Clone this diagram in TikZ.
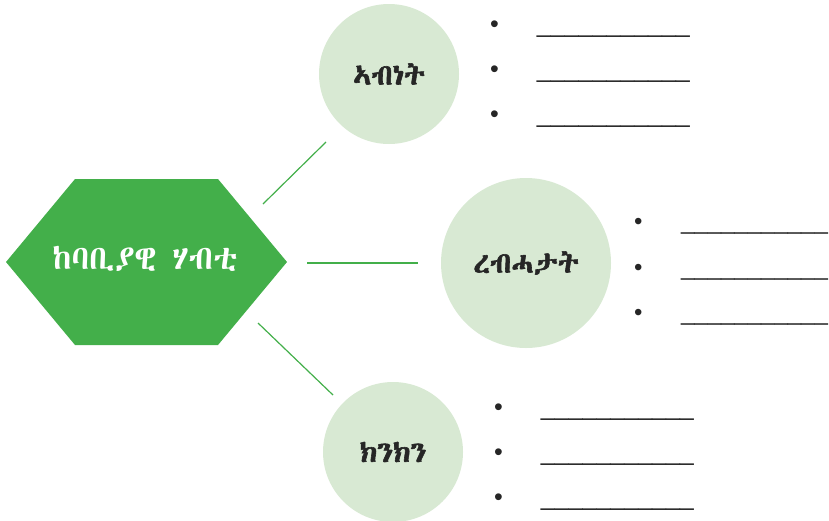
\documentclass[tikz,border=0pt]{standalone}
\usepackage{fontspec}
\usetikzlibrary{positioning}
\setmainfont{Liberation Sans}
\IfFontExistsTF{Abyssinica SIL}
  {\newfontfamily\ethfont[Script=Ethiopic]{Abyssinica SIL}
   \newfontfamily\ethbold[Script=Ethiopic,FakeBold=2]{Abyssinica SIL}}
  {\newfontfamily\ethfont[Script=Ethiopic]{FreeSerif.otf}
   \newfontfamily\ethbold[Script=Ethiopic,FakeBold=2]{FreeSerif.otf}}
\definecolor{leafgreen}{HTML}{43AF4A}
\definecolor{palegreen}{HTML}{D8E9D3}
\tikzset{
  topic/.style={circle, fill=palegreen, inner sep=0pt,
    font=\ethbold\fontsize{29}{34}\selectfont, text=black!85},
  link/.style={draw=leafgreen, line width=1.2pt},
  blank/.style={anchor=base west, inner sep=0pt, text=black!85,
    font=\fontsize{25}{30}\selectfont}
}
\newcommand{\blankline}{\textbullet\hspace{38pt}\_\_\_\_\_\_\_\_\_\_\_}

\begin{document}
\begin{tikzpicture}[x=1pt,y=-1pt]
\useasboundingbox (0,0) rectangle (829,520);
% hexagon
\coordinate (HL) at (6,262);
\coordinate (HTL) at (75,179);
\coordinate (HTR) at (218,179);
\coordinate (HR) at (287,262);
\coordinate (HBR) at (218,345);
\coordinate (HBL) at (75,345);
\fill[leafgreen] (HL) -- (HTL) -- (HTR) -- (HR) -- (HBR) -- (HBL) -- cycle;
\node[text=white, font=\ethfont\fontsize{33.5}{40}\selectfont] (resource) at (145,259) {ከባቢያዊ ሃብቲ};
% circles
\node[topic, minimum size=140pt] (abnet) at (389,74) {ኣብነት};
\node[topic, minimum size=170pt] (rebhatat) at (526,263) {ረብሓታት};
\node[topic, minimum size=140pt] (kinkin) at (393,452) {ክንክን};
% links
\coordinate (L1a) at (263,204);
\coordinate (L1b) at (326,142);
\coordinate (L2a) at (307,263);
\coordinate (L2b) at (418,263);
\coordinate (L3a) at (258,323);
\coordinate (L3b) at (333,395);
\draw[link] (L1a) -- (L1b);
\draw[link] (L2a) -- (L2b);
\draw[link] (L3a) -- (L3b);
% blanks
\foreach \y [count=\i] in {32,77,122}
  \node[blank] (abnet-\i) at (490,\y) {\blankline};
\foreach \y [count=\i] in {229,275,320}
  \node[blank, font=\fontsize{24}{29}\selectfont] (rebhatat-\i) at (634,\y) {\textbullet\hspace{38.5pt}\_\_\_\_\_\_\_\_\_\_\_};
\foreach \y [count=\i] in {415,460,505}
  \node[blank] (kinkin-\i) at (494,\y) {\blankline};
\end{tikzpicture}
\end{document}
